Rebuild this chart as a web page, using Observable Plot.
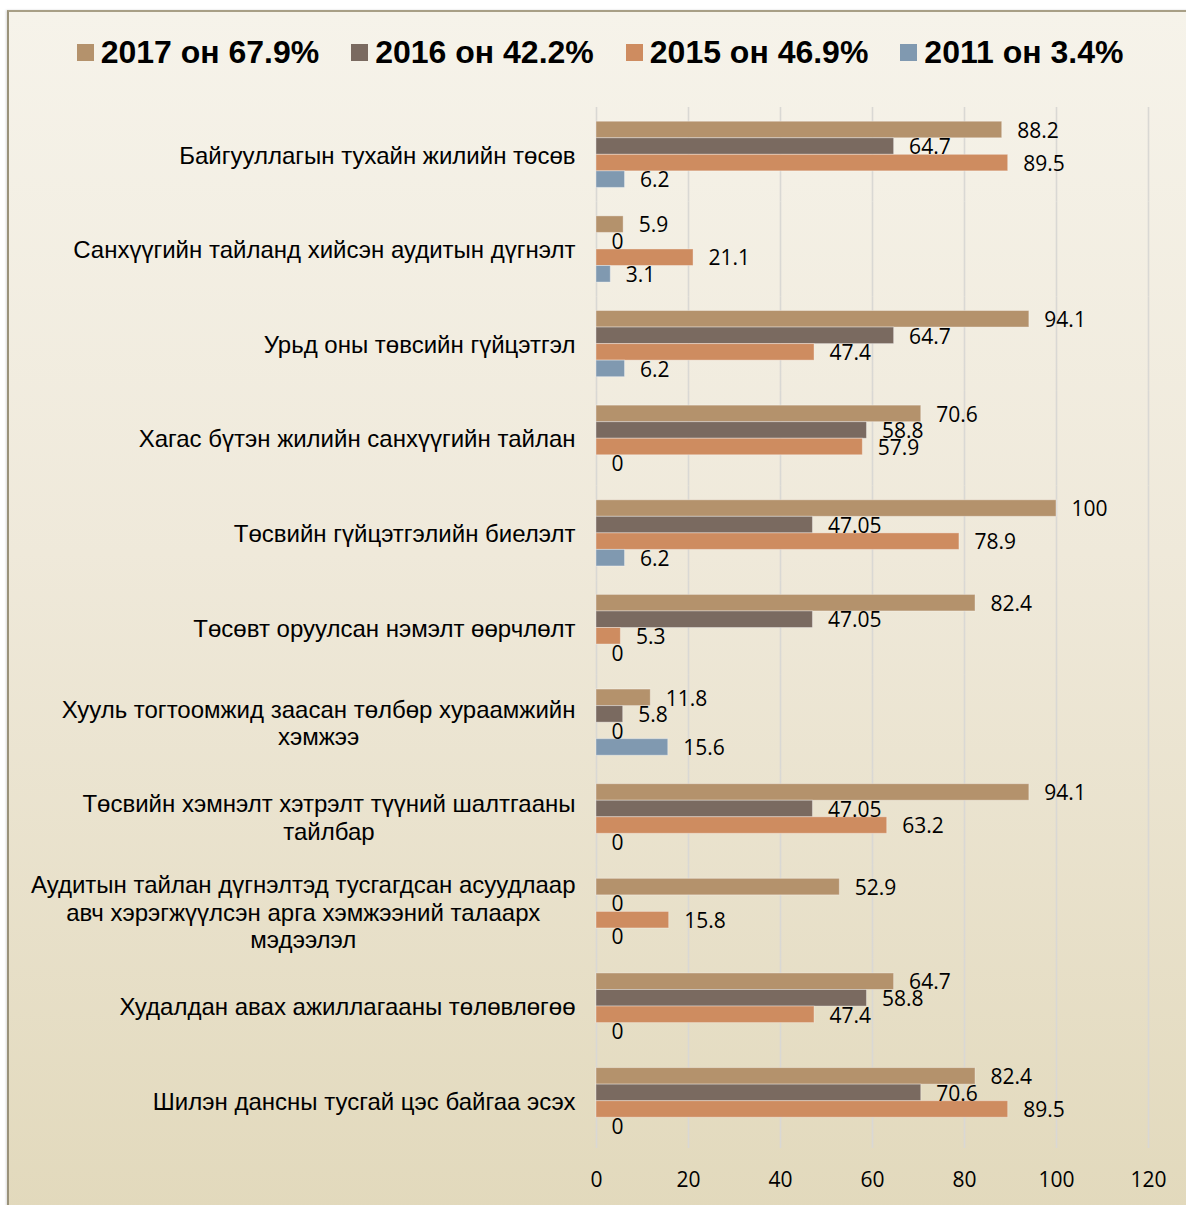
<!DOCTYPE html>
<html>
<head>
<meta charset="utf-8">
<script src="https://cdn.jsdelivr.net/npm/d3@7"></script>
<script src="https://cdn.jsdelivr.net/npm/@observablehq/plot@0.6"></script>
<style>
  html, body { margin: 0; padding: 0; background: #ffffff; width: 1186px; height: 1205px; overflow: hidden; }
  #panel {
    position: absolute; left: 7px; top: 10px; width: 1180px; height: 1200px;
    border-left: 2px solid #9a927a; border-top: 2px solid #a89f86;
    background: linear-gradient(to bottom, #f6f3ea 0%, #efe9da 45%, #e2d9bc 100%);
    box-shadow: -1px 0 2px rgba(0,0,0,0.15);
  }
  #legend {
    height: 80px; display: flex; align-items: center; justify-content: center;
    font-family: "Liberation Sans", Arial, sans-serif; font-weight: bold; font-size: 32px; color: #000;
    padding-left: 2px; box-sizing: border-box;
  }
  .item { display: flex; align-items: center; margin: 0 16px; }
  .sw { width: 17px; height: 17px; margin-right: 7px; }
</style>
</head>
<body>
<div id="panel">
  <div id="legend"></div>
  <div id="chart"></div>
</div>
<script>
const categories = [
  "Байгууллагын тухайн жилийн төсөв",
  "Санхүүгийн тайланд хийсэн аудитын дүгнэлт",
  "Урьд оны төвсийн гүйцэтгэл",
  "Хагас бүтэн жилийн санхүүгийн тайлан",
  "Төсвийн гүйцэтгэлийн биелэлт",
  "Төсөвт оруулсан нэмэлт өөрчлөлт",
  "Хууль тогтоомжид заасан төлбөр хураамжийн\nхэмжээ",
  "Төсвийн хэмнэлт хэтрэлт түүний шалтгааны\nтайлбар",
  "Аудитын тайлан дүгнэлтэд тусгагдсан асуудлаар\nавч хэрэгжүүлсэн арга хэмжээний талаарх\nмэдээлэл",
  "Худалдан авах ажиллагааны төлөвлөгөө",
  "Шилэн дансны тусгай цэс байгаа эсэх"
];
const seriesLabels = ["2017 он 67.9%", "2016 он 42.2%", "2015 он 46.9%", "2011 он 3.4%"];
const seriesColors = ["#b4926c", "#7a6a60", "#ce8c60", "#8099b0"];
const values2017 = [88.2, 5.9, 94.1, 70.6, 100, 82.4, 11.8, 94.1, 52.9, 64.7, 82.4];
const values2016 = [64.7, 0, 64.7, 58.8, 47.05, 47.05, 5.8, 47.05, 0, 58.8, 70.6];
const values2015 = [89.5, 21.1, 47.4, 57.9, 78.9, 5.3, 0, 63.2, 15.8, 47.4, 89.5];
const values2011 = [6.2, 3.1, 6.2, 0, 6.2, 0, 15.6, 0, 0, 0, 0];
const xTicks = [0, 20, 40, 60, 80, 100, 120];

const seriesValues = [values2017, values2016, values2015, values2011];
const data = [];
categories.forEach((c, i) => {
  seriesLabels.forEach((s, j) => {
    data.push({category: c, series: s, value: seriesValues[j][i]});
  });
});

// Legend
const legend = document.getElementById("legend");
seriesLabels.forEach((s, j) => {
  const it = document.createElement("div");
  it.className = "item";
  const sw = document.createElement("span");
  sw.className = "sw";
  sw.style.background = seriesColors[j];
  const tx = document.createElement("span");
  tx.textContent = s;
  it.appendChild(sw); it.appendChild(tx);
  legend.appendChild(it);
});

const chart = Plot.plot({
  width: 1180,
  height: 1115,
  marginLeft: 587,
  marginRight: 41,
  marginTop: 15,
  marginBottom: 59,
  style: {background: "transparent", overflow: "visible"},
  x: {domain: [0, 120]},
  fy: {domain: categories, padding: 0, round: false, label: null},
  y: {domain: seriesLabels, paddingInner: 0, paddingOuter: 0.86, round: false, axis: null},
  color: {domain: seriesLabels, range: seriesColors},
  marks: [
    Plot.gridX(xTicks, {stroke: "#d9d8d4", strokeOpacity: 1, strokeWidth: 1.6}),
    Plot.barX(data.filter(d => d.value > 0), {
      fy: "category", y: "series", x: "value", fill: "series",
      stroke: "#ffffff", strokeOpacity: 0.35, strokeWidth: 1, insetTop: 0, insetBottom: 0
    }),
    Plot.text(data, {
      fy: "category", y: "series", x: "value", text: d => String(d.value),
      dx: 15, dy: 1, textAnchor: "start", fill: "#000",
      fontSize: 21, fontFamily: "'Open Sans', Lato, sans-serif"
    }),
    Plot.axisFy({
      anchor: "left", tickSize: 0, tickPadding: 21, label: null,
      fontSize: 24, lineHeight: 1.13, fill: "#000",
      fontFamily: "'Liberation Sans', Arial, sans-serif"
    }),
    Plot.axisX({
      ticks: xTicks, anchor: "bottom", tickSize: 0, tickPadding: 24, label: null,
      fontSize: 21, fill: "#000", fontFamily: "'Open Sans', Lato, sans-serif"
    })
  ]
});
document.getElementById("chart").appendChild(chart);

// Center multi-line category labels within their block (right-aligned block)
chart.querySelectorAll("text").forEach(t => {
  const tspans = t.querySelectorAll("tspan");
  if (tspans.length > 1) {
    const widths = Array.from(tspans).map(s => s.getComputedTextLength());
    const maxW = Math.max(...widths);
    const anchor = t.getAttribute("text-anchor") || (t.parentNode && t.parentNode.getAttribute("text-anchor"));
    if (anchor === "end") {
      t.setAttribute("text-anchor", "middle");
      tspans.forEach(s => {
        const x0 = parseFloat(s.getAttribute("x") || "0");
        s.setAttribute("x", x0 - maxW / 2);
      });
    }
  }
});
</script>
</body>
</html>
